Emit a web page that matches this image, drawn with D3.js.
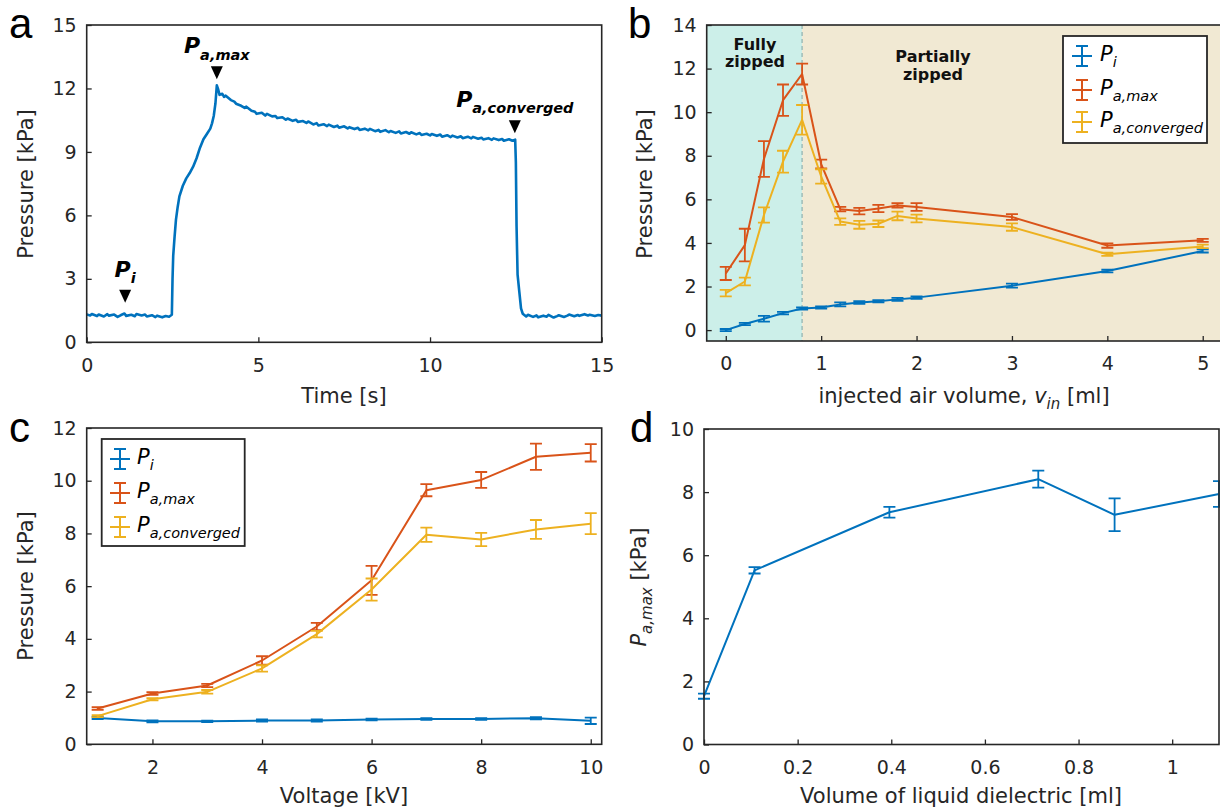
<!DOCTYPE html>
<html>
<head>
<meta charset="utf-8">
<script src="https://cdn.jsdelivr.net/npm/d3@7"></script>
<style>
  body { margin: 0; background: #fff; }
</style>
</head>
<body>
<div id="chart"></div>
<script>
// ---- panel a: pressure trace [time s, pressure kPa]
const traceA = [
  [0.0,1.32],[0.1,1.27],[0.15,1.34],[0.3,1.24],[0.35,1.31],[0.5,1.22],[0.6,1.33],[0.65,1.26],
  [0.8,1.31],[0.9,1.20],[1.0,1.29],[1.1,1.36],[1.15,1.25],[1.3,1.30],[1.4,1.23],[1.45,1.34],
  [1.6,1.27],[1.7,1.31],[1.75,1.22],[1.9,1.28],[2.0,1.19],[2.05,1.26],[2.2,1.18],[2.3,1.24],
  [2.4,1.21],[2.48,1.30],[2.5,3.0],[2.52,4.1],[2.56,5.0],[2.6,5.8],[2.65,6.4],[2.7,6.9],
  [2.8,7.4],[2.9,7.75],[3.0,8.0],[3.1,8.3],[3.2,8.7],[3.3,9.2],[3.4,9.6],[3.5,9.85],
  [3.6,10.1],[3.65,10.35],[3.7,10.7],[3.75,11.3],[3.79,12.15],[3.83,11.95],[3.87,11.7],
  [3.95,11.75],[4.0,11.6],[4.05,11.66],[4.2,11.45],[4.3,11.38],[4.35,11.28],[4.5,11.18],
  [4.6,11.08],[4.65,11.14],[4.8,10.95],[4.9,10.9],[4.95,10.8],[5.1,10.85],[5.2,10.72],
  [5.25,10.8],[5.4,10.68],[5.5,10.7],[5.55,10.6],[5.7,10.64],[5.8,10.52],[5.85,10.58],
  [6.0,10.47],[6.1,10.52],[6.15,10.42],[6.3,10.46],[6.4,10.37],[6.45,10.44],[6.6,10.3],
  [6.7,10.36],[6.75,10.25],[6.9,10.31],[7.0,10.22],[7.05,10.29],[7.2,10.18],[7.3,10.24],
  [7.35,10.14],[7.5,10.21],[7.6,10.11],[7.65,10.17],[7.8,10.08],[7.9,10.14],[7.95,10.04],
  [8.1,10.1],[8.2,10.02],[8.25,10.09],[8.4,9.98],[8.5,10.04],[8.55,9.95],[8.7,10.03],
  [8.8,9.93],[8.85,9.99],[9.0,9.9],[9.1,9.97],[9.15,9.87],[9.3,9.94],[9.4,9.86],[9.45,9.93],
  [9.6,9.83],[9.7,9.89],[9.75,9.8],[9.9,9.86],[10.0,9.78],[10.05,9.85],[10.2,9.76],
  [10.3,9.82],[10.35,9.72],[10.5,9.79],[10.6,9.7],[10.65,9.77],[10.8,9.68],[10.9,9.74],
  [10.95,9.65],[11.1,9.72],[11.2,9.64],[11.25,9.71],[11.4,9.62],[11.5,9.67],[11.55,9.59],
  [11.7,9.65],[11.8,9.57],[11.85,9.64],[12.0,9.56],[12.1,9.61],[12.15,9.53],[12.3,9.6],
  [12.4,9.53],[12.48,9.58],[12.5,8.5],[12.52,5.5],[12.55,3.2],[12.6,2.4],[12.65,1.6],
  [12.7,1.35],[12.8,1.22],[12.85,1.3],[13.0,1.2],[13.1,1.27],[13.15,1.18],[13.3,1.26],
  [13.4,1.21],[13.45,1.3],[13.6,1.17],[13.7,1.24],[13.75,1.28],[13.9,1.2],[14.0,1.26],
  [14.05,1.31],[14.2,1.23],[14.3,1.29],[14.35,1.25],[14.5,1.33],[14.6,1.27],[14.65,1.3],
  [14.8,1.24],[14.9,1.29],[15.0,1.26]
];
// markers: [time, tip pressure, subscript]
const markersA = [[1.12, 1.87, "i"], [3.79, 12.43, "a,max"], [12.47, 9.88, "a,converged"]];

// ---- panel b
const volB = [0, 0.2, 0.4, 0.6, 0.8, 1.0, 1.2, 1.4, 1.6, 1.8, 2, 3, 4, 5];
const piB = [0.0, 0.28, 0.52, 0.78, 0.99, 1.04, 1.18, 1.27, 1.32, 1.41, 1.49, 2.04, 2.71, 3.63];
const piBErr = [0.05, 0.05, 0.13, 0.06, 0.05, 0.05, 0.09, 0.06, 0.05, 0.07, 0.06, 0.09, 0.06, 0.07];
const pmaxB = [2.6, 3.9, 7.85, 10.55, 11.75, 7.62, 5.55, 5.46, 5.58, 5.72, 5.65, 5.19, 3.88, 4.12];
const pmaxBErr = [0.3, 0.75, 0.82, 0.72, 0.48, 0.2, 0.1, 0.15, 0.17, 0.1, 0.18, 0.13, 0.1, 0.07];
const pconvB = [1.7, 2.23, 5.28, 7.73, 9.65, 7.05, 4.98, 4.83, 4.88, 5.24, 5.12, 4.73, 3.48, 3.84];
const pconvBErr = [0.15, 0.18, 0.35, 0.5, 0.68, 0.33, 0.15, 0.18, 0.15, 0.2, 0.18, 0.17, 0.07, 0.08];
const zipLimit = 0.8;

// ---- panel c
const voltC = [1, 2, 3, 4, 5, 6, 7, 8, 9, 10];
const piC = [1.0, 0.87, 0.87, 0.9, 0.9, 0.94, 0.96, 0.96, 0.99, 0.89];
const piCErr = [0.04, 0.04, 0.03, 0.04, 0.04, 0.03, 0.03, 0.03, 0.04, 0.12];
const pmaxC = [1.36, 1.93, 2.23, 3.18, 4.47, 6.22, 9.64, 10.03, 10.91, 11.06];
const pmaxCErr = [0.05, 0.05, 0.06, 0.16, 0.14, 0.55, 0.23, 0.3, 0.5, 0.33];
const pconvC = [1.07, 1.71, 1.99, 2.88, 4.18, 5.87, 7.95, 7.77, 8.15, 8.37];
const pconvCErr = [0.04, 0.04, 0.07, 0.12, 0.12, 0.42, 0.27, 0.25, 0.36, 0.4];

// ---- panel d
const volD = [0, 0.108, 0.396, 0.714, 0.877, 1.1];
const pmaxD = [1.53, 5.52, 7.36, 8.41, 7.28, 7.94];
const pmaxDErr = [0.08, 0.1, 0.17, 0.27, 0.52, 0.41];

const legendSubs = ["i", "a,max", "a,converged"];

const BLUE = "#0072BD", RED = "#D95319", YELLOW = "#EDB120";
const INK = "#262626";
const FONT = "DejaVu Sans, sans-serif";

const svg = d3.select("#chart").append("svg")
  .attr("width", 1220).attr("height", 811)
  .style("font-family", FONT);

function panel(box, xDom, yDom, xTicks, yTicks, xFmt) {
  const g = svg.append("g");
  const x = d3.scaleLinear().domain(xDom).range([box.left, box.right]);
  const y = d3.scaleLinear().domain(yDom).range([box.bottom, box.top]);
  const under = g.append("g");
  const plot = g.append("g");
  const axes = g.append("g");
  axes.append("g").attr("transform", `translate(0,${box.bottom})`)
    .call(d3.axisBottom(x).tickValues(xTicks).tickFormat(xFmt || d3.format("d"))
      .tickSizeInner(-5).tickSizeOuter(0).tickPadding(16));
  axes.append("g").attr("transform", `translate(${box.left},0)`)
    .call(d3.axisLeft(y).tickValues(yTicks).tickFormat(d3.format("d"))
      .tickSizeInner(-5).tickSizeOuter(0).tickPadding(10));
  axes.selectAll(".domain").remove();
  axes.selectAll(".tick line").attr("stroke", INK).attr("stroke-width", 1.3);
  axes.selectAll(".tick text").attr("fill", INK).attr("font-size", 19).attr("font-family", FONT);
  g.append("rect")
    .attr("x", box.left).attr("y", box.top)
    .attr("width", box.right - box.left).attr("height", box.bottom - box.top)
    .attr("fill", "none").attr("stroke", INK).attr("stroke-width", 1.6);
  return { g, x, y, under, plot, box };
}

function series(p, xs, vals, errs, color) {
  const pts = xs.map((d, i) => [d, vals[i], errs[i]]);
  p.plot.append("path")
    .attr("fill", "none").attr("stroke", color).attr("stroke-width", 2)
    .attr("stroke-linejoin", "round")
    .attr("d", d3.line().x(d => p.x(d[0])).y(d => p.y(d[1]))(pts));
  p.plot.append("g").selectAll("path").data(pts).join("path")
    .attr("fill", "none").attr("stroke", color).attr("stroke-width", 1.8)
    .attr("d", d => {
      const cx = p.x(d[0]), lo = p.y(d[1] - d[2]), hi = p.y(d[1] + d[2]);
      return `M${cx},${lo}V${hi}M${cx - 6},${lo}h12M${cx - 6},${hi}h12`;
    });
}

function pText(sel, sub, size, subSize, bold) {
  const t = sel.append("text").attr("fill", "#000").attr("font-size", size)
    .attr("font-weight", bold ? "bold" : null);
  t.append("tspan").attr("font-style", "italic").text("P");
  t.append("tspan").attr("font-style", "italic").attr("font-size", subSize)
    .attr("dy", size * 0.28).text(sub);
  return t;
}

function legend(p, lx, ly, w, h, rowY, iconX, textX) {
  const g = p.g.append("g");
  g.append("rect").attr("x", lx).attr("y", ly).attr("width", w).attr("height", h)
    .attr("fill", "#fff").attr("stroke", INK).attr("stroke-width", 1.8);
  [BLUE, RED, YELLOW].forEach((c, i) => {
    const cy = rowY[i];
    g.append("path").attr("fill", "none").attr("stroke", c).attr("stroke-width", 2)
      .attr("d", `M${iconX - 10},${cy}h20M${iconX},${cy - 10}v20M${iconX - 6},${cy - 10}h12M${iconX - 6},${cy + 10}h12`);
    pText(g, legendSubs[i], 21, 14.5, false).attr("x", textX).attr("y", cy + 5);
  });
}

function axisTitle(x, y, txt, rotate) {
  return svg.append("text").attr("x", x).attr("y", y).attr("text-anchor", "middle")
    .attr("fill", INK).attr("font-size", 21)
    .attr("transform", rotate ? `rotate(-90,${x},${y})` : null)
    .text(txt);
}

function letter(x, y, l) {
  svg.append("text").attr("x", x).attr("y", y).attr("font-size", 42)
    .attr("font-family", "Liberation Sans, Arial, sans-serif").attr("fill", "#000").text(l);
}

// ===== panel a
const pa = panel({ left: 86.7, right: 601.7, top: 25, bottom: 342.3 },
  [0, 15], [0, 15], [0, 5, 10, 15], [0, 3, 6, 9, 12, 15]);
pa.plot.append("path")
  .attr("fill", "none").attr("stroke", BLUE).attr("stroke-width", 2.6)
  .attr("stroke-linejoin", "round")
  .attr("d", d3.line().x(d => pa.x(d[0])).y(d => pa.y(d[1]))(traceA));
markersA.forEach(([t, p, sub]) => {
  const cx = pa.x(t), tip = pa.y(p);
  pa.plot.append("path").attr("fill", "#000")
    .attr("d", `M${cx},${tip}L${cx - 6},${tip - 13}L${cx + 6},${tip - 13}Z`);
  pText(pa.plot, sub, 22, 14.5, true)
    .attr("x", cx).attr("y", tip - 26).attr("text-anchor", "middle");
});
axisTitle(344, 403, "Time [s]");
axisTitle(33, 184, "Pressure [kPa]", true);
letter(9, 38, "a");

// ===== panel b
const pb = panel({ left: 706.7, right: 1221.8, top: 25, bottom: 341 },
  [-0.2, 5.2], [-0.5, 14], [0, 1, 2, 3, 4, 5], [0, 2, 4, 6, 8, 10, 12, 14]);
pb.under.append("rect")
  .attr("x", pb.x(-0.2)).attr("y", pb.y(14))
  .attr("width", pb.x(zipLimit) - pb.x(-0.2)).attr("height", pb.y(-0.5) - pb.y(14))
  .attr("fill", "#ccefe9");
pb.under.append("rect")
  .attr("x", pb.x(zipLimit)).attr("y", pb.y(14))
  .attr("width", pb.x(5.2) - pb.x(zipLimit)).attr("height", pb.y(-0.5) - pb.y(14))
  .attr("fill", "#f1e9d3");
pb.under.append("line")
  .attr("x1", pb.x(zipLimit)).attr("x2", pb.x(zipLimit))
  .attr("y1", pb.y(14)).attr("y2", pb.y(-0.5))
  .attr("stroke", "#93b5b2").attr("stroke-width", 1.3).attr("stroke-dasharray", "4,3");
[["Fully", 755, 50], ["zipped", 755, 67], ["Partially", 933, 62], ["zipped", 933, 80]]
  .forEach(([s, tx, ty]) => {
    pb.under.append("text").attr("x", tx).attr("y", ty).attr("text-anchor", "middle")
      .attr("font-size", 16).attr("font-weight", "bold").attr("fill", "#111").text(s);
  });
series(pb, volB, piB, piBErr, BLUE);
series(pb, volB, pmaxB, pmaxBErr, RED);
series(pb, volB, pconvB, pconvBErr, YELLOW);
legend(pb, 1063, 36, 144, 107, [56, 90, 122], 1082, 1100);
{
  const t = svg.append("text").attr("x", 964).attr("y", 403).attr("text-anchor", "middle")
    .attr("fill", INK).attr("font-size", 21);
  t.append("tspan").text("injected air volume, ");
  t.append("tspan").attr("font-style", "italic").text("v");
  t.append("tspan").attr("font-style", "italic").attr("font-size", 15).attr("dy", 6).text("in");
  t.append("tspan").attr("dy", -6).text(" [ml]");
}
axisTitle(652, 184, "Pressure [kPa]", true);
letter(628, 38, "b");

// ===== panel c
const pc = panel({ left: 86.7, right: 601.7, top: 428, bottom: 744.3 },
  [0.8, 10.2], [0, 12], [2, 4, 6, 8, 10], [0, 2, 4, 6, 8, 10, 12]);
series(pc, voltC, piC, piCErr, BLUE);
series(pc, voltC, pmaxC, pmaxCErr, RED);
series(pc, voltC, pconvC, pconvCErr, YELLOW);
legend(pc, 101.7, 439, 143, 107, [459, 493, 527], 120, 137);
axisTitle(344, 803, "Voltage [kV]");
axisTitle(33, 586, "Pressure [kPa]", true);
letter(9, 442, "c");

// ===== panel d
const pd = panel({ left: 704, right: 1219, top: 429, bottom: 744.5 },
  [0, 1.1], [0, 10], [0, 0.2, 0.4, 0.6, 0.8, 1], [0, 2, 4, 6, 8, 10], d3.format("~g"));
series(pd, volD, pmaxD, pmaxDErr, BLUE);
axisTitle(961, 803, "Volume of liquid dielectric [ml]");
{
  const t = svg.append("text").attr("x", 646).attr("y", 587).attr("text-anchor", "middle")
    .attr("fill", INK).attr("font-size", 21)
    .attr("transform", "rotate(-90,646,587)");
  t.append("tspan").attr("font-style", "italic").text("P");
  t.append("tspan").attr("font-style", "italic").attr("font-size", 15).attr("dy", 6).text("a,max");
  t.append("tspan").attr("dy", -6).text(" [kPa]");
}
letter(630, 442, "d");
</script>
</body>
</html>
